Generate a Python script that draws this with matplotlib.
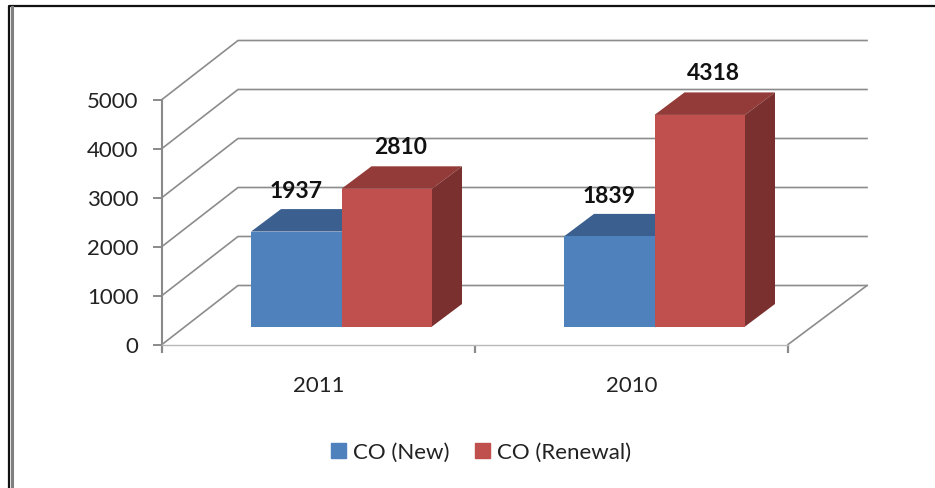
import matplotlib
matplotlib.use('Agg')
from matplotlib import pyplot as plt
from matplotlib.lines import Line2D
from matplotlib.patches import Patch

categories = ['2011', '2010']
co_new = [1937, 1839]
co_renewal = [2810, 4318]
y_ticks = [0, 1000, 2000, 3000, 4000, 5000]
series_names = ['CO (New)', 'CO (Renewal)']

W, H = 935, 489
plt.rcParams['font.family'] = ['Lato', 'DejaVu Sans']

fig = plt.figure(figsize=(W/100, H/100), dpi=100, facecolor='white')
# front plane of the fake 3d box, pixel box
ax = fig.add_axes([162/W, 1-345.5/H, (788-162)/W, (345.5-100.5)/H])
ax.set_xlim(0, 2)
ax.set_ylim(0, 5000)
ax.patch.set_alpha(0)

px_x = 2/(788-162)
px_y = 5000/(345.5-100.5)
wall_dx, wall_dy = 76*px_x, 59*px_y
wall_end = 2+79*px_x
front_dx, front_dy = 23*px_x, 18*px_y
depth_dx, depth_dy = 30*px_x, 22.5*px_y
bar_w = 90.5*px_x
bar_left = 66*px_x

grid = '#8c8c8c'
for v in y_ticks:
    ax.plot([0, wall_dx, wall_end], [v, v+wall_dy, v+wall_dy], color=grid, lw=1.2, clip_on=False, zorder=1)
ax.plot([2, wall_end], [0, wall_dy], color=grid, lw=1.2, clip_on=False, zorder=1)


def box(x, value, front, top, side, z):
    x0 = x+front_dx
    x1 = x0+bar_w
    y0 = front_dy
    y1 = y0+value
    ax.bar(x0, value, width=bar_w, bottom=y0, align='edge', color=front, clip_on=False, zorder=z+1)
    ax.fill([x0, x1, x1+depth_dx, x0+depth_dx], [y1, y1, y1+depth_dy, y1+depth_dy], color=top, lw=0, clip_on=False, zorder=z)
    ax.fill([x1, x1+depth_dx, x1+depth_dx, x1], [y0, y0+depth_dy, y1+depth_dy, y1], color=side, lw=0, clip_on=False, zorder=z)


for i in range(len(categories)):
    box(i+bar_left, co_new[i], '#4F81BD', '#3B6090', '#3B6090', 2)
    box(i+bar_left+bar_w, co_renewal[i], '#C0504D', '#923B39', '#7A302E', 4)
    ax.annotate(str(co_new[i]), (i+bar_left+front_dx+bar_w/2, co_new[i]+front_dy), xytext=(0, 29.5), textcoords='offset points',
                ha='center', va='center', fontsize=16.5, fontweight='bold', color='#111111', zorder=8, annotation_clip=False)
    ax.annotate(str(co_renewal[i]), (i+bar_left+front_dx+bar_w*1.5, co_renewal[i]+front_dy), xytext=(10, 30.5), textcoords='offset points',
                ha='center', va='center', fontsize=16.5, fontweight='bold', color='#111111', zorder=8, annotation_clip=False)

for s in ['top', 'right']:
    ax.spines[s].set_visible(False)
ax.spines['left'].set_color('#8a8a8a')
ax.spines['left'].set_linewidth(1.5)
ax.spines['bottom'].set_color('#b8b8b8')
ax.spines['bottom'].set_linewidth(1.0)
ax.set_yticks(y_ticks)
ax.tick_params(axis='y', length=6.5, width=1.4, color='#8a8a8a', pad=10.5, labelsize=16, labelcolor='#222222')
ax.set_xticks([0, 1, 2])
ax.set_xticklabels([])
ax.tick_params(axis='x', which='major', length=6, width=1.6, color='#8a8a8a')
ax.set_xticks([0.5, 1.5], minor=True)
ax.set_xticklabels(categories, minor=True)
ax.tick_params(axis='x', which='minor', length=0, pad=22, labelsize=16, labelcolor='#222222')

handles = [Patch(color='#4F81BD'), Patch(color='#C0504D')]
fig.legend(handles, series_names, loc='center', bbox_to_anchor=(481/W, 1-453/H), ncol=2, frameon=False, fontsize=16,
           labelcolor='#222222', handlelength=0.68, handleheight=0.68, handletextpad=0.3, columnspacing=1.17, borderpad=0)

# window frame round the pasted chart
fig.add_artist(Line2D([8.5/W, 8.5/W, 1], [0, 1-7/H, 1-7/H], color='#111111', lw=1.6))
fig.add_artist(Line2D([11.5/W, 11.5/W], [0, 1-8/H], color='#808080', lw=2.2))

fig.savefig('out.png', dpi=100)
